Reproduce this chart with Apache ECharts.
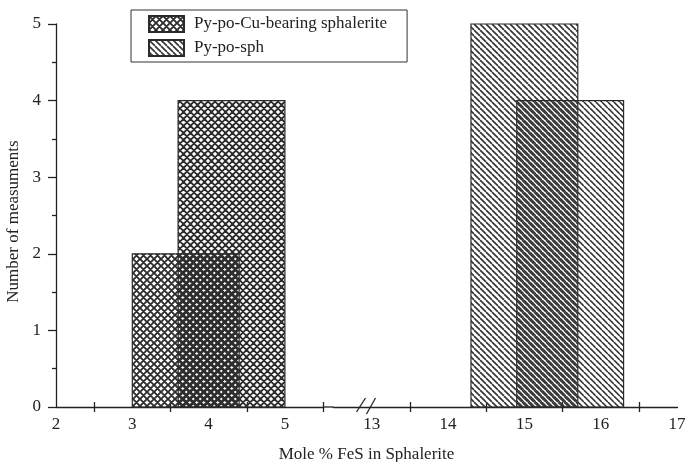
<!DOCTYPE html>
<html>
<head>
<meta charset="utf-8">
<title>Mole % FeS in Sphalerite</title>
<script src="https://cdn.jsdelivr.net/npm/echarts@6/dist/echarts.min.js"></script>
<style>
	html, body { margin: 0; padding: 0; background: #fff; }
	#chart { width: 686px; height: 462px; }
</style>
</head>
<body>
<div id="chart"></div>
<script>
	// bars: FeS range (start - end) and number of measurements
	var cuStart = [3.0, 3.6];
	var cuEnd = [4.4, 5.0];
	var cuCount = [2, 4];

	var sphStart = [14.3, 14.9];
	var sphEnd = [15.7, 16.3];
	var sphCount = [5, 4];

	var xLabels = [2, 3, 4, 5, 13, 14, 15, 16, 17];
	var xTicks = [2.5, 3.5, 4.5, 5.5, 13.5, 14.5, 15.5, 16.5];

	var seriesNames = ['Py-po-Cu-bearing sphalerite', 'Py-po-sph'];

	// hatch tile, transparent background so overlapping bars get darker
	function hatch(p, off, cross, w, color) {
		var c = document.createElement('canvas');
		c.width = p;
		c.height = p;
		var ctx = c.getContext('2d');
		ctx.strokeStyle = color;
		ctx.lineWidth = w;
		ctx.beginPath();
		for (var k = -2; k <= 2; k++) {
			ctx.moveTo(k * p + off, 0);
			ctx.lineTo(k * p + off + p, p);
			if (cross) {
				ctx.moveTo(k * p + off, p);
				ctx.lineTo(k * p + off + p, 0);
			}
		}
		ctx.stroke();
		return { image: c, repeat: 'repeat' };
	}

	var cuFill = [hatch(7, 0, true, 1.9, '#2e2e2e'), hatch(7, 1.5, true, 1.9, '#2e2e2e')];
	var sphFill = [hatch(6, 0, false, 1.6, '#333'), hatch(6, 1.8, false, 1.6, '#333')];

	function rows(s, e, n) {
		return s.map(function (v, i) { return [v, e[i], n[i]]; });
	}

	function barRenderer(fills) {
		return function (params, api) {
			var p0 = api.coord([api.value(0), api.value(2)]);
			var p1 = api.coord([api.value(1), 0]);
			return {
				type: 'rect',
				shape: { x: p0[0], y: p0[1], width: p1[0] - p0[0], height: p1[1] - p0[1] },
				style: { fill: fills[params.dataIndex], stroke: '#2a2a2a', lineWidth: 1.2 }
			};
		};
	}

	var font = { fontFamily: 'Liberation Serif', fontSize: 17, color: '#222' };
	var lineColor = '#222';
	var xBreaks = [{ start: 5.5, end: 12.5, gap: '1.7%' }];

	var option = {
		animation: false,
		backgroundColor: '#fff',
		grid: { left: 56, right: 9, top: 24, bottom: 55, outerBoundsMode: 'none' },
		legend: {
			left: 131,
			top: 10,
			orient: 'vertical',
			padding: [5, 20, 5, 17],
			itemGap: 6,
			itemWidth: 35,
			itemHeight: 16,
			icon: 'rect',
			borderColor: '#333',
			borderWidth: 1,
			textStyle: { fontFamily: 'Liberation Serif', fontSize: 17, color: '#222', lineHeight: 17, padding: [0, 0, 0, 5] },
			data: seriesNames
		},
		xAxis: [{
			type: 'value',
			min: 2,
			max: 17,
			breaks: xBreaks,
			breakArea: { show: false },
			axisLine: { show: true, onZero: false, lineStyle: { color: lineColor, width: 1.3 } },
			axisTick: { show: true, customValues: xTicks, length: 5, lineStyle: { color: lineColor, width: 1.3 } },
			axisLabel: Object.assign({ customValues: xLabels, margin: 9 }, font),
			splitLine: { show: false },
			name: 'Mole % FeS in Sphalerite',
			nameLocation: 'middle',
			nameGap: 39,
			nameTextStyle: font
		}, {
			type: 'value',
			min: 2,
			max: 17,
			position: 'bottom',
			breaks: xBreaks,
			breakArea: { show: false },
			axisLine: { show: false },
			axisTick: { show: true, inside: true, customValues: xTicks, length: 5, lineStyle: { color: lineColor, width: 1.3 } },
			axisLabel: { show: false },
			splitLine: { show: false }
		}],
		yAxis: {
			type: 'value',
			min: 0,
			max: 5,
			interval: 1,
			axisLine: { show: true, lineStyle: { color: lineColor, width: 1.3 } },
			axisTick: { show: true, length: 8, lineStyle: { color: lineColor, width: 1.3 } },
			minorTick: { show: true, splitNumber: 2, length: 4, lineStyle: { color: lineColor, width: 1.3 } },
			axisLabel: Object.assign({ margin: 15 }, font),
			splitLine: { show: false },
			minorSplitLine: { show: false },
			name: 'Number of measuments',
			nameLocation: 'middle',
			nameGap: 32,
			nameTextStyle: Object.assign({ padding: [0, 12, 0, 0] }, font)
		},
		series: [{
			name: seriesNames[0],
			type: 'custom',
			xAxisIndex: 0,
			itemStyle: { color: cuFill[0], borderColor: '#2a2a2a', borderWidth: 1 },
			encode: { x: [0, 1], y: 2 },
			renderItem: barRenderer(cuFill),
			data: rows(cuStart, cuEnd, cuCount)
		}, {
			name: seriesNames[1],
			type: 'custom',
			xAxisIndex: 0,
			itemStyle: { color: sphFill[0], borderColor: '#2a2a2a', borderWidth: 1 },
			encode: { x: [0, 1], y: 2 },
			renderItem: barRenderer(sphFill),
			data: rows(sphStart, sphEnd, sphCount)
		}]
	};

	var chart = echarts.init(document.getElementById('chart'));
	chart.setOption(option);

	// the axis line runs through the break, with a "//" mark on it
	var toX = function (v) { return chart.convertToPixel({ xAxisIndex: 0 }, v); };
	var bx = (toX(5.5) + toX(13.5)) / 2;
	var by = chart.convertToPixel({ yAxisIndex: 0 }, 0);
	var slash = { stroke: lineColor, lineWidth: 1.3 };
	chart.setOption({
		graphic: [
			{ type: 'line', shape: { x1: toX(5.5), y1: by, x2: toX(12.5), y2: by }, style: slash },
			{ type: 'line', shape: { x1: bx - 10, y1: by + 5, x2: bx - 1, y2: by - 9 }, style: slash },
			{ type: 'line', shape: { x1: bx, y1: by + 7, x2: bx + 9, y2: by - 9 }, style: slash }
		]
	});
</script>
</body>
</html>
